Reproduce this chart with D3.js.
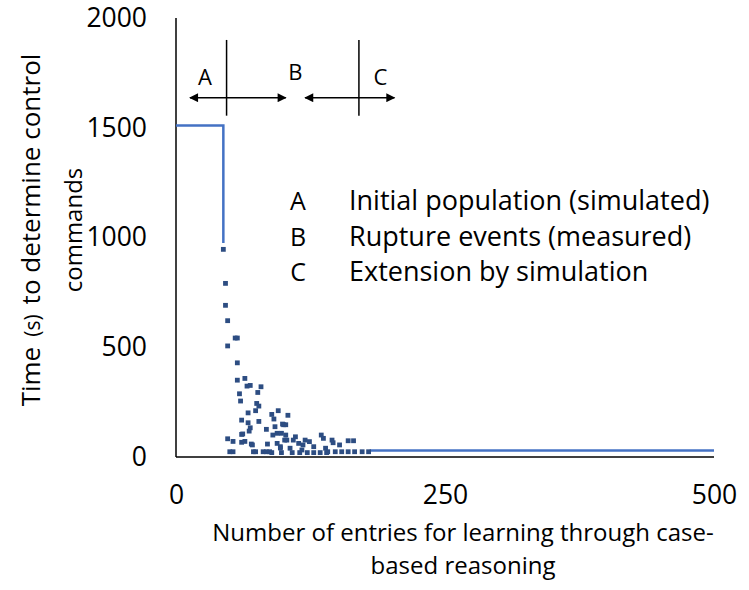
<!DOCTYPE html>
<html>
<head>
<meta charset="utf-8">
<script src="https://cdn.jsdelivr.net/npm/d3@7"></script>
<style>
  body { margin: 0; background: #fff; }
  text { font-family: "Open Sans", sans-serif; fill: #000; }
</style>
</head>
<body>
<svg width="749" height="590"></svg>
<script>
// measured points (entries, seconds)
const ptX = [44,46,46,48,55,57,48,57,57,64,66,69,79,59,76,60,75,77,67,74,89,95,104,61,67,77,91,69,68,84,100,102,92,61,48,53,64,70,85,50,53,72,74,81,84,87,
  99,94,98,102,90,111,103,109,120,124,135,137,94,97,114,118,106,117,128,139,89,98,108,115,122,128,134,140,145,146,160,165,152,141,148,154,160,166,173,179,71,97,101,62,61];
const ptY = [946,791,691,621,542,542,506,429,350,358,323,326,320,288,294,255,244,232,201,211,194,211,190,168,156,162,173,133,118,126,147,147,138,103,83,71,71,59,59,24,24,24,24,24,24,24,
  150,108,108,100,100,92,77,77,77,70,100,85,62,47,62,55,40,32,47,40,20,20,20,20,20,20,20,20,77,65,74,74,55,24,24,24,24,24,24,24,55,41,77,105,67];

// step line (initial population) and extension line
const stepX = [0, 44, 44];
const stepY = [1510, 1510, 975];
const extX = [180, 500];
const extY = [30, 30];

const xTicks = [0, 250, 500];
const yTicks = [0, 500, 1000, 1500, 2000];

// region markers A / B / C
const markX = [47, 170];
const arrowFrom = [13, 120];
const arrowTo = [102, 203];
const regionLabels = ["A", "B", "C"];
const regionLabelX = [27, 111, 190];
const legendKeys = ["A", "B", "C"];
const legendText = ["Initial population (simulated)", "Rupture events (measured)", "Extension by simulation"];

const svg = d3.select('svg');

const x = d3.scaleLinear().domain([0, 500]).range([176, 714]);
const y = d3.scaleLinear().domain([0, 2000]).range([457, 18]);

svg.append('defs').append('marker')
    .attr('id', 'arr')
    .attr('viewBox', '0 0 10 10')
    .attr('refX', 9).attr('refY', 5)
    .attr('markerWidth', 10).attr('markerHeight', 9)
    .attr('markerUnits', 'userSpaceOnUse')
    .attr('orient', 'auto-start-reverse')
    .append('path')
    .attr('d', 'M0,0L10,5L0,10Z')
    .attr('fill', '#000');

// axes
const yAxis = svg.append('g')
    .attr('transform', `translate(176,0)`)
    .call(d3.axisLeft(y).tickValues(yTicks).tickSize(0).tickPadding(29).tickFormat(d3.format('d')));
yAxis.select('.domain').remove();
yAxis.selectAll('text').style('font-size', '26.5px').style('font-family', '"Open Sans", sans-serif').attr('fill', '#000');

const xAxis = svg.append('g')
    .attr('transform', `translate(0,457)`)
    .call(d3.axisBottom(x).tickValues(xTicks).tickSize(0).tickPadding(28).tickFormat(d3.format('d')));
xAxis.select('.domain').remove();
xAxis.selectAll('text').style('font-size', '26.5px').style('font-family', '"Open Sans", sans-serif').attr('fill', '#000');

svg.append('line')
    .attr('x1', x(0)).attr('x2', x(0))
    .attr('y1', y(2000)).attr('y2', y(0))
    .attr('stroke', '#000').attr('stroke-width', 1.5);
svg.append('line')
    .attr('x1', x(0)).attr('x2', x(500))
    .attr('y1', y(0)).attr('y2', y(0))
    .attr('stroke', '#000').attr('stroke-width', 1.5);

// lines
const line = d3.line().x(d => x(d[0])).y(d => y(d[1]));
svg.append('path')
    .attr('d', line(d3.zip(stepX, stepY)))
    .attr('fill', 'none').attr('stroke', '#4472C4').attr('stroke-width', 2.5);
svg.append('path')
    .attr('d', line(d3.zip(extX, extY)))
    .attr('fill', 'none').attr('stroke', '#4472C4').attr('stroke-width', 2.5);

// points
svg.append('g').selectAll('rect')
    .data(d3.zip(ptX, ptY))
    .enter()
    .append('rect')
    .attr('x', d => x(d[0]) - 2.4)
    .attr('y', d => y(d[1]) - 2.4)
    .attr('width', 4.8).attr('height', 4.8)
    .attr('fill', '#2D4D82');

// region annotation
const ann = svg.append('g');
ann.selectAll('.mark')
    .data(markX)
    .enter().append('line')
    .attr('x1', d => x(d)).attr('x2', d => x(d))
    .attr('y1', y(1900)).attr('y2', y(1555))
    .attr('stroke', '#000').attr('stroke-width', 1.5);
ann.selectAll('.arrow')
    .data(d3.zip(arrowFrom, arrowTo))
    .enter().append('line')
    .attr('x1', d => x(d[0])).attr('x2', d => x(d[1]))
    .attr('y1', y(1637)).attr('y2', y(1637))
    .attr('stroke', '#000').attr('stroke-width', 1.5)
    .attr('marker-start', 'url(#arr)')
    .attr('marker-end', 'url(#arr)');
ann.selectAll('.rl')
    .data(regionLabels)
    .enter().append('text')
    .attr('x', (d, i) => x(regionLabelX[i]))
    .attr('y', (d, i) => i === 1 ? 80 : 85)
    .attr('text-anchor', 'middle')
    .style('font-size', '22px')
    .text(d => d);

// legend
const leg = svg.append('g');
legendKeys.forEach((k, i) => {
  leg.append('text').attr('x', 298).attr('y', 210 + i * 35.5)
     .attr('text-anchor', 'middle').style('font-size', '25px').text(k);
  leg.append('text').attr('x', 349).attr('y', 210 + i * 35.5)
     .style('font-size', '27px').text(legendText[i]);
});

// axis titles
const yt = svg.append('text')
    .attr('transform', 'translate(40,230) rotate(-90)')
    .attr('text-anchor', 'middle')
    .style('font-size', '26px');
yt.append('tspan').text('Time');
yt.append('tspan').attr('dx', 10).style('font-size', '21px').text('(s)');
yt.append('tspan').attr('dx', 10).text('to determine control');
svg.append('text')
    .attr('transform', 'translate(82,230) rotate(-90)')
    .attr('text-anchor', 'middle')
    .style('font-size', '24px')
    .text('commands');
svg.append('text')
    .attr('x', 463).attr('y', 541)
    .attr('text-anchor', 'middle')
    .style('font-size', '24px')
    .text('Number of entries for learning through case-');
svg.append('text')
    .attr('x', 463).attr('y', 574)
    .attr('text-anchor', 'middle')
    .style('font-size', '24px')
    .text('based reasoning');
</script>
</body>
</html>
